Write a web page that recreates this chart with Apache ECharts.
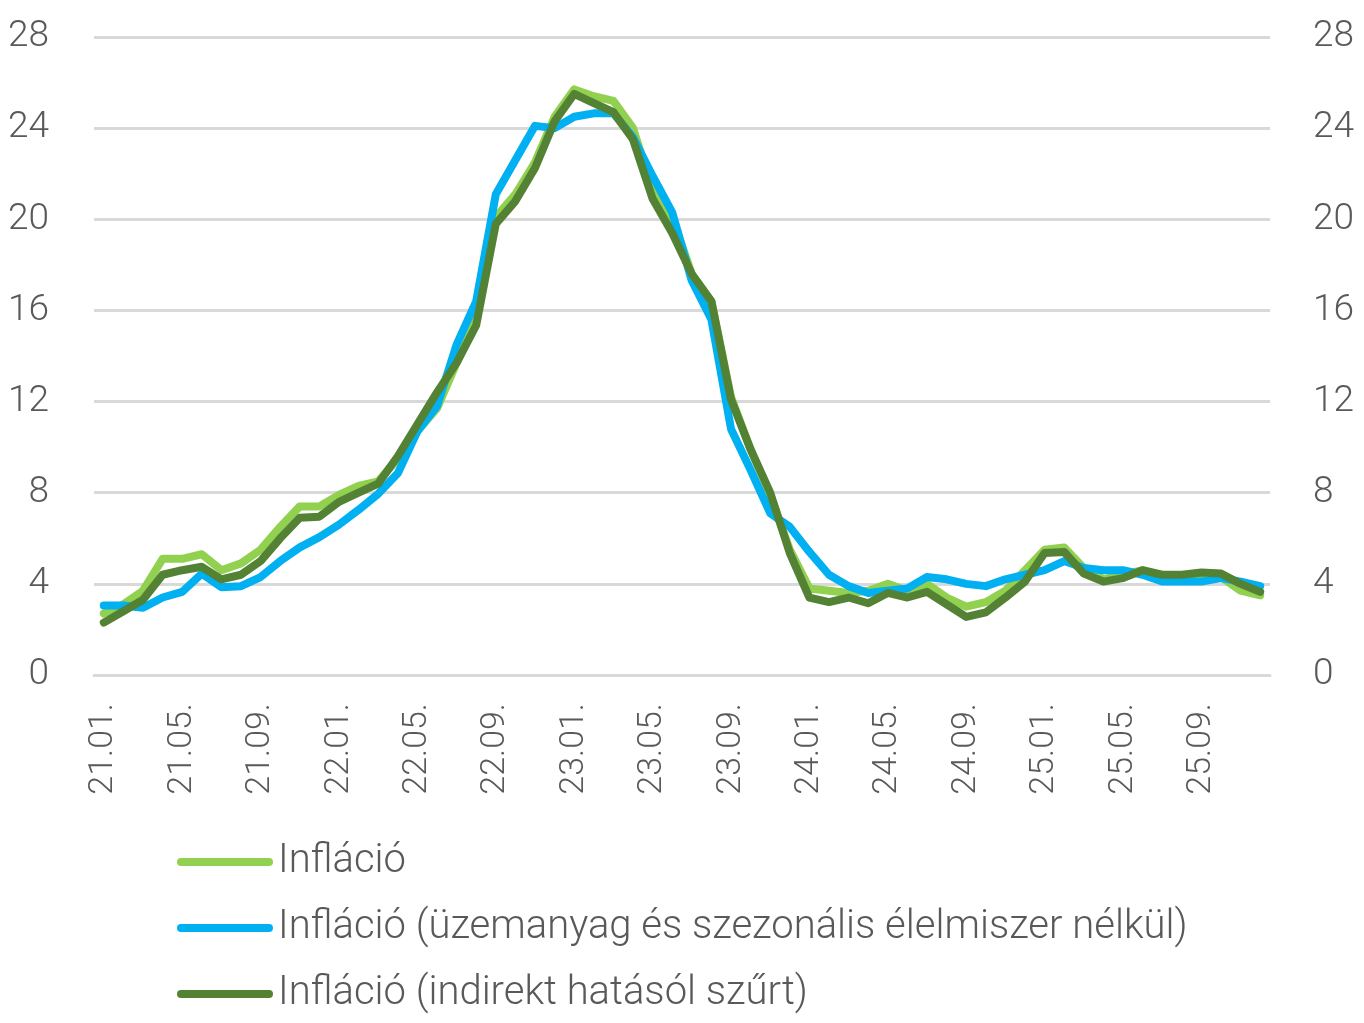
<!DOCTYPE html>
<html>
<head>
<meta charset="utf-8">
<title>Infláció</title>
<script src="https://cdn.jsdelivr.net/npm/echarts@6/dist/echarts.min.js"></script>
<style>
  html, body { margin: 0; padding: 0; background: #fff; }
  #main { width: 1364px; height: 1023px; }
</style>
</head>
<body>
<div id="main"></div>
<script>
// havi adatok 2021.01 - 2025.12
const months = [
  '21.01.', '21.02.', '21.03.', '21.04.', '21.05.', '21.06.', '21.07.', '21.08.', '21.09.', '21.10.', '21.11.', '21.12.',
  '22.01.', '22.02.', '22.03.', '22.04.', '22.05.', '22.06.', '22.07.', '22.08.', '22.09.', '22.10.', '22.11.', '22.12.',
  '23.01.', '23.02.', '23.03.', '23.04.', '23.05.', '23.06.', '23.07.', '23.08.', '23.09.', '23.10.', '23.11.', '23.12.',
  '24.01.', '24.02.', '24.03.', '24.04.', '24.05.', '24.06.', '24.07.', '24.08.', '24.09.', '24.10.', '24.11.', '24.12.',
  '25.01.', '25.02.', '25.03.', '25.04.', '25.05.', '25.06.', '25.07.', '25.08.', '25.09.', '25.10.', '25.11.', '25.12.'
]

const inflacio = [
  2.7, 3.1, 3.7, 5.1, 5.1, 5.3, 4.6, 4.9, 5.5, 6.5, 7.4, 7.4,
  7.9, 8.3, 8.5, 9.5, 10.7, 11.7, 13.7, 15.6, 20.1, 21.1, 22.5, 24.5,
  25.7, 25.4, 25.2, 24.0, 21.3, 20.1, 17.6, 16.4, 12.2, 9.9, 7.9, 5.5,
  3.8, 3.7, 3.6, 3.7, 4.0, 3.7, 4.0, 3.4, 3.0, 3.2, 3.7, 4.6,
  5.5, 5.6, 4.7, 4.2, 4.4, 4.6, 4.3, 4.3, 4.3, 4.3, 3.7, 3.5
]

const inflacioUzemanyagNelkul = [
  3.05, 3.05, 2.95, 3.4, 3.65, 4.45, 3.85, 3.9, 4.3, 5.0, 5.6, 6.05,
  6.6, 7.25, 7.95, 8.85, 10.7, 11.8, 14.5, 16.4, 21.1, 22.6, 24.1, 24.0,
  24.5, 24.65, 24.65, 23.6, 21.9, 20.3, 17.3, 15.6, 10.8, 9.0, 7.1, 6.5,
  5.4, 4.4, 3.9, 3.6, 3.7, 3.8, 4.3, 4.2, 4.0, 3.9, 4.2, 4.4,
  4.6, 5.0, 4.7, 4.6, 4.6, 4.4, 4.1, 4.1, 4.1, 4.25, 4.1, 3.9
]

const inflacioIndirektSzurt = [
  2.3, 2.8, 3.3, 4.4, 4.6, 4.75, 4.2, 4.4, 5.0, 6.0, 6.9, 6.95,
  7.6, 8.0, 8.4, 9.6, 11.0, 12.4, 13.7, 15.35, 19.8, 20.8, 22.25, 24.3,
  25.5, 25.1, 24.7, 23.5, 20.9, 19.4, 17.6, 16.4, 12.1, 9.9, 8.0, 5.35,
  3.4, 3.2, 3.4, 3.15, 3.6, 3.4, 3.65, 3.1, 2.55, 2.75, 3.4, 4.1,
  5.35, 5.4, 4.45, 4.1, 4.25, 4.6, 4.4, 4.4, 4.5, 4.45, 4.0, 3.65
]

const seriesNames = [
  'Infláció',
  'Infláció (üzemanyag és szezonális élelmiszer nélkül)',
  'Infláció (indirekt hatásól szűrt)'
]
const colors = ['#92D050', '#00B0F0', '#548235']

const fontFamily = 'Roboto'
const textColor = '#595959'
const gridColor = '#D9D9D9'
// legend jel: vastag vonal lekerekített végekkel
const legendIcon = 'path://M4,0 L92,0 A4,4 0 0 1 92,8 L4,8 A4,4 0 0 1 4,0 Z'

const chart = echarts.init(document.getElementById('main'), null, { renderer: 'canvas' })

const yAxisBase = {
  type: 'value',
  min: 0,
  max: 28,
  interval: 4,
  axisLine: { show: false },
  axisTick: { show: false },
  axisLabel: {
    color: textColor,
    fontFamily: fontFamily,
    fontWeight: 300,
    fontSize: 37,
    padding: [6, 0, 0, 0]
  }
}

function lineSeries(name, data, color) {
  return {
    name: name,
    type: 'line',
    data: data,
    yAxisIndex: 0,
    symbol: 'none',
    color: color,
    lineStyle: { color: color, width: 8, cap: 'round', join: 'round' },
    animation: false
  }
}

chart.setOption({
  animation: false,
  textStyle: { fontFamily: fontFamily },
  grid: {
    left: 94,
    right: 94,
    top: 37,
    bottom: 348,
    containLabel: false
  },
  legend: {
    orient: 'vertical',
    left: 172,
    top: 837,
    itemWidth: 96,
    itemHeight: 8,
    itemGap: 26,
    icon: legendIcon,
    data: seriesNames,
    textStyle: {
      color: textColor,
      fontFamily: fontFamily,
      fontWeight: 300,
      fontSize: 40,
      lineHeight: 40
    }
  },
  xAxis: {
    type: 'category',
    data: months,
    boundaryGap: true,
    axisLine: { lineStyle: { color: gridColor, width: 3 } },
    axisTick: {
      interval: 3,
      length: 13,
      lineStyle: { color: gridColor, width: 3 }
    },
    axisLabel: {
      interval: 3,
      rotate: 90,
      margin: 28,
      color: textColor,
      fontFamily: fontFamily,
      fontWeight: 300,
      fontSize: 34
    },
    splitLine: { show: false }
  },
  yAxis: [
    Object.assign({}, yAxisBase, {
      position: 'left',
      axisLabel: Object.assign({}, yAxisBase.axisLabel, { margin: 45 }),
      splitLine: { lineStyle: { color: gridColor, width: 3 } }
    }),
    Object.assign({}, yAxisBase, {
      position: 'right',
      axisLabel: Object.assign({}, yAxisBase.axisLabel, { margin: 43 }),
      splitLine: { show: false }
    })
  ],
  series: [
    lineSeries(seriesNames[0], inflacio, colors[0]),
    lineSeries(seriesNames[1], inflacioUzemanyagNelkul, colors[1]),
    lineSeries(seriesNames[2], inflacioIndirektSzurt, colors[2])
  ]
})
</script>
</body>
</html>
